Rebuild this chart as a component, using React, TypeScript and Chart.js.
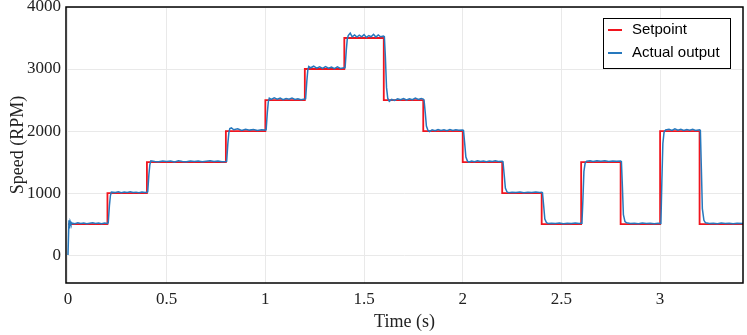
import { useEffect, useRef } from 'react';
import { Chart, registerables } from 'chart.js';

Chart.register(...registerables);

const xTicks = [0, 0.5, 1, 1.5, 2, 2.5, 3];
const yTicks = [0, 1000, 2000, 3000, 4000];
const legendLabels = ['Setpoint', 'Actual output'];
const seriesColors = ['#f0141e', '#2678bd'];

// Setpoint: time at which each level starts, and the level (RPM)
const setpointTimes = [0, 0.2, 0.4, 0.8, 1.0, 1.2, 1.4, 1.6, 1.8, 2.0, 2.2, 2.4, 2.6, 2.8, 3.0, 3.2, 3.42];
const setpointValues = [500, 1000, 1500, 2000, 2500, 3000, 3500, 2500, 2000, 1500, 1000, 500, 1500, 500, 2000, 500, 500];

// Actual output samples [time (s), speed (RPM)]
const actualOutput: [number, number][] = [
  [0, 0], [0.005, 560], [0.008, 430], [0.011, 540], [0.015, 500], [0.02, 515], [0.035, 505], [0.05, 520],
  [0.065, 510], [0.08, 518], [0.095, 505], [0.11, 515], [0.125, 520], [0.14, 508], [0.155, 516], [0.17, 505],
  [0.185, 518], [0.2, 510],
  [0.204, 520], [0.21, 800], [0.215, 960], [0.22, 1015], [0.24, 1010], [0.255, 1020], [0.27, 1005], [0.285, 1018],
  [0.3, 1010], [0.315, 1022], [0.33, 1008], [0.345, 1015], [0.36, 1005], [0.375, 1018], [0.39, 1010], [0.4, 1012],
  [0.404, 1020], [0.41, 1300], [0.415, 1460], [0.42, 1520], [0.44, 1510], [0.46, 1505], [0.48, 1518], [0.5, 1508],
  [0.52, 1515], [0.54, 1502], [0.56, 1520], [0.58, 1510], [0.6, 1505], [0.62, 1518], [0.64, 1508], [0.66, 1515],
  [0.68, 1505], [0.7, 1512], [0.72, 1520], [0.74, 1508], [0.76, 1515], [0.78, 1505], [0.8, 1510],
  [0.804, 1515], [0.81, 1800], [0.815, 1970], [0.82, 2040], [0.828, 2050], [0.84, 2020], [0.86, 2035], [0.88, 2010],
  [0.9, 2030], [0.92, 2015], [0.94, 2025], [0.96, 2010], [0.98, 2020], [1.0, 2015],
  [1.004, 2020], [1.01, 2300], [1.015, 2470], [1.02, 2530], [1.03, 2510], [1.045, 2535], [1.06, 2515], [1.075, 2530],
  [1.09, 2505], [1.105, 2525], [1.12, 2512], [1.135, 2530], [1.15, 2510], [1.165, 2520], [1.18, 2505], [1.2, 2515],
  [1.204, 2520], [1.21, 2800], [1.215, 2980], [1.22, 3040], [1.23, 3020], [1.245, 3045], [1.26, 3015], [1.275, 3035],
  [1.29, 3010], [1.305, 3040], [1.32, 3015], [1.335, 3030], [1.35, 3005], [1.365, 3035], [1.38, 3010], [1.4, 3020],
  [1.404, 3020], [1.41, 3300], [1.415, 3480], [1.42, 3540], [1.43, 3580], [1.44, 3520], [1.452, 3550], [1.464, 3515],
  [1.476, 3545], [1.488, 3520], [1.5, 3555], [1.512, 3510], [1.524, 3540], [1.536, 3520], [1.548, 3560], [1.56, 3515],
  [1.572, 3550], [1.584, 3520], [1.598, 3530],
  [1.603, 3520], [1.608, 3200], [1.614, 2700], [1.62, 2530], [1.628, 2480], [1.64, 2510], [1.655, 2495], [1.67, 2520],
  [1.685, 2505], [1.7, 2525], [1.715, 2500], [1.73, 2520], [1.745, 2505], [1.76, 2530], [1.775, 2510], [1.79, 2525],
  [1.8, 2515],
  [1.804, 2500], [1.81, 2300], [1.816, 2080], [1.824, 2010], [1.832, 1990], [1.845, 2020], [1.86, 2005], [1.875, 2025],
  [1.89, 2010], [1.905, 2020], [1.92, 2005], [1.935, 2025], [1.95, 2010], [1.965, 2020], [1.98, 2012], [2.0, 2018],
  [2.004, 2010], [2.01, 1800], [2.016, 1580], [2.024, 1515], [2.032, 1500], [2.045, 1515], [2.06, 1505], [2.075, 1520],
  [2.09, 1508], [2.105, 1518], [2.12, 1505], [2.135, 1515], [2.15, 1508], [2.165, 1520], [2.18, 1510], [2.2, 1512],
  [2.204, 1505], [2.21, 1300], [2.216, 1080], [2.224, 1020], [2.232, 1005], [2.25, 1015], [2.27, 1008], [2.29, 1018],
  [2.31, 1005], [2.33, 1015], [2.35, 1010], [2.37, 1018], [2.39, 1008], [2.4, 1012],
  [2.404, 1005], [2.41, 800], [2.416, 580], [2.424, 525], [2.432, 510], [2.45, 515], [2.47, 508], [2.49, 518],
  [2.51, 505], [2.53, 515], [2.55, 510], [2.57, 518], [2.59, 508], [2.6, 512],
  [2.604, 515], [2.609, 900], [2.614, 1350], [2.62, 1480], [2.628, 1515], [2.645, 1520], [2.66, 1510], [2.68, 1522],
  [2.7, 1512], [2.72, 1520], [2.74, 1508], [2.76, 1518], [2.78, 1512], [2.8, 1515],
  [2.804, 1505], [2.809, 1100], [2.814, 650], [2.822, 540], [2.83, 520], [2.85, 510], [2.87, 515], [2.89, 505],
  [2.91, 518], [2.93, 508], [2.95, 515], [2.97, 505], [2.99, 512], [3.0, 510],
  [3.004, 515], [3.009, 1200], [3.014, 1800], [3.02, 1980], [3.028, 2020], [3.045, 2030], [3.06, 2010], [3.075, 2035],
  [3.09, 2015], [3.105, 2030], [3.12, 2010], [3.135, 2025], [3.15, 2015], [3.165, 2030], [3.18, 2010], [3.2, 2020],
  [3.204, 2010], [3.209, 1400], [3.214, 750], [3.222, 560], [3.23, 520], [3.25, 510], [3.27, 515], [3.29, 505],
  [3.31, 518], [3.33, 508], [3.35, 515], [3.37, 505], [3.39, 512], [3.42, 510],
];

const framePlugin = {
  id: 'frameAndLegend',
  afterDraw(chart: any) {
    const { ctx, chartArea } = chart;
    const { left, top, right, bottom } = chartArea;
    ctx.save();
    ctx.strokeStyle = '#000';
    ctx.lineWidth = 1.5;
    ctx.strokeRect(left, top, right - left, bottom - top);

    // legend box
    const bx = right - 140;
    const by = top + 11;
    const bw = 127;
    const bh = 50;
    ctx.fillStyle = '#fff';
    ctx.fillRect(bx, by, bw, bh);
    ctx.lineWidth = 1;
    ctx.strokeStyle = '#000';
    ctx.strokeRect(bx + 0.5, by + 0.5, bw, bh);
    ctx.font = '15px "Liberation Sans", Arial, sans-serif';
    ctx.textBaseline = 'middle';
    legendLabels.forEach((label, i) => {
      const y = by + 12 + i * 23;
      ctx.strokeStyle = seriesColors[i];
      ctx.lineWidth = 2;
      ctx.beginPath();
      ctx.moveTo(bx + 5, y);
      ctx.lineTo(bx + 19, y);
      ctx.stroke();
      ctx.fillStyle = '#000';
      ctx.fillText(label, bx + 29, y);
    });
    ctx.restore();
  },
};

export default function App() {
  const canvasRef = useRef<HTMLCanvasElement | null>(null);

  useEffect(() => {
    if (!canvasRef.current) return;
    const chart = new Chart(canvasRef.current, {
      type: 'line',
      data: {
        datasets: [
          {
            label: legendLabels[0],
            data: setpointTimes.map((t, i) => ({ x: t, y: setpointValues[i] })),
            borderColor: seriesColors[0],
            borderWidth: 1.8,
            pointRadius: 0,
            stepped: 'before',
            order: 2,
          },
          {
            label: legendLabels[1],
            data: actualOutput.map(([t, v]) => ({ x: t, y: v })),
            borderColor: seriesColors[1],
            borderWidth: 1.5,
            pointRadius: 0,
            tension: 0,
            order: 1,
          },
        ],
      },
      options: {
        animation: false,
        responsive: true,
        maintainAspectRatio: false,
        layout: { padding: { top: 7, right: 4, left: 0, bottom: 0 } },
        plugins: {
          legend: { display: false },
          tooltip: { enabled: false },
        },
        scales: {
          x: {
            type: 'linear',
            min: -0.01,
            max: 3.42,
            afterBuildTicks: (s: any) => {
              s.ticks = xTicks.map((v) => ({ value: v }));
            },
            afterFit: (s: any) => {
              s.height = 52;
              s.paddingLeft = 0;
              s.paddingRight = 0;
            },
            ticks: {
              padding: 6,
              color: '#222',
              font: { family: '"Liberation Serif", "Times New Roman", serif', size: 17 },
              callback: (v: any) => String(v),
              maxRotation: 0,
            },
            grid: { color: '#e9e9e9', drawTicks: false },
            border: { display: false },
            title: {
              display: true,
              text: 'Time (s)',
              color: '#222',
              padding: { top: 0, bottom: 2 },
              font: { family: '"Liberation Serif", "Times New Roman", serif', size: 18 },
            },
          },
          y: {
            type: 'linear',
            min: -450,
            max: 4000,
            afterBuildTicks: (s: any) => {
              s.ticks = yTicks.map((v) => ({ value: v }));
            },
            afterFit: (s: any) => {
              s.width = 66;
              s.paddingTop = 0;
              s.paddingBottom = 0;
            },
            ticks: {
              padding: 5,
              color: '#222',
              font: { family: '"Liberation Serif", "Times New Roman", serif', size: 17 },
              callback: (v: any) => String(v),
            },
            grid: { color: '#e9e9e9', drawTicks: false },
            border: { display: false },
            title: {
              display: true,
              text: 'Speed (RPM)',
              color: '#222',
              padding: { top: 7, bottom: 0 },
              font: { family: '"Liberation Serif", "Times New Roman", serif', size: 18 },
            },
          },
        },
      },
      plugins: [framePlugin],
    });
    return () => chart.destroy();
  }, []);

  return (
    <div style={{ position: 'absolute', left: 0, top: 0, width: 747, height: 335, background: '#fff' }}>
      <canvas ref={canvasRef} />
    </div>
  );
}
